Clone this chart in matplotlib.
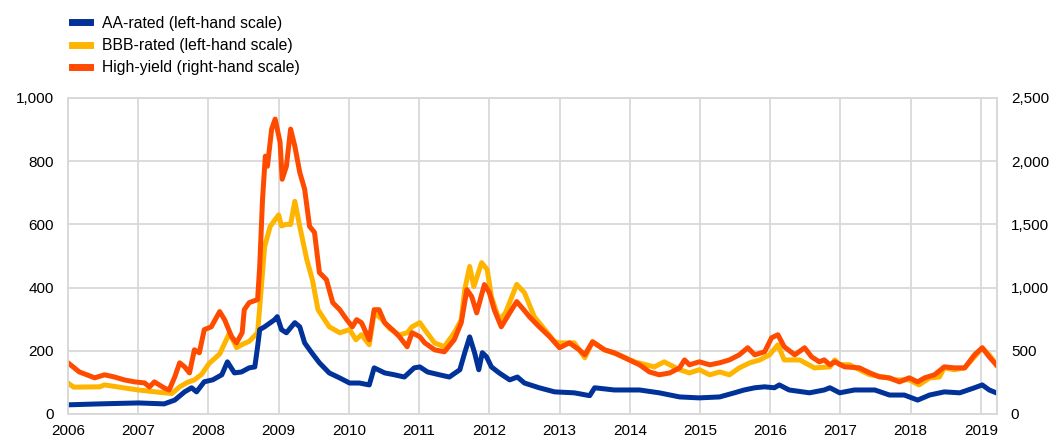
import matplotlib.pyplot as plt
from matplotlib.ticker import FuncFormatter

plt.rcParams['font.family'] = ['Liberation Sans', 'DejaVu Sans']

# AA-rated (left-hand scale)
aa_dates = [2006.00, 2006.45, 2007.00, 2007.37, 2007.52, 2007.66, 2007.76, 2007.83, 2007.94,
            2008.06, 2008.19, 2008.27, 2008.37, 2008.47, 2008.58, 2008.66, 2008.70, 2008.73,
            2008.80, 2008.94, 2008.98, 2009.04, 2009.11, 2009.23, 2009.30, 2009.37, 2009.47,
            2009.58, 2009.72, 2009.87, 2010.01, 2010.15, 2010.29, 2010.36, 2010.51, 2010.65,
            2010.79, 2010.93, 2011.01, 2011.12, 2011.29, 2011.43, 2011.58, 2011.65, 2011.72,
            2011.79, 2011.85, 2011.90, 2011.96, 2012.03, 2012.14, 2012.29, 2012.40, 2012.50,
            2012.71, 2012.93, 2013.21, 2013.43, 2013.50, 2013.78, 2014.14, 2014.42, 2014.71,
            2014.99, 2015.28, 2015.49, 2015.63, 2015.78, 2015.92, 2016.06, 2016.13, 2016.27,
            2016.56, 2016.77, 2016.85, 2016.99, 2017.20, 2017.49, 2017.70, 2017.91, 2018.10,
            2018.27, 2018.48, 2018.70, 2018.91, 2019.02, 2019.12, 2019.22]
aa_values = [29, 32, 35, 32, 44, 70, 83, 70, 102,
             108, 124, 165, 130, 133, 146, 149, 213, 267,
             276, 298, 308, 267, 257, 289, 276, 225, 194,
             162, 130, 114, 98, 98, 92, 146, 130, 124,
             117, 146, 149, 133, 124, 117, 140, 194, 244,
             194, 140, 194, 181, 149, 130, 108, 117, 98,
             83, 70, 67, 58, 83, 76, 76, 67, 54,
             51, 54, 67, 76, 83, 86, 83, 92, 76,
             67, 76, 83, 67, 76, 76, 60, 60, 44,
             60, 70, 67, 83, 92, 76, 67]

# BBB-rated (left-hand scale)
bbb_dates = [2006.00, 2006.08, 2006.45, 2006.52, 2007.00, 2007.37, 2007.48, 2007.59, 2007.70,
             2007.80, 2007.90, 2008.01, 2008.16, 2008.30, 2008.40, 2008.48, 2008.58, 2008.70,
             2008.80, 2008.88, 2009.00, 2009.04, 2009.10, 2009.17, 2009.23, 2009.30, 2009.40,
             2009.48, 2009.56, 2009.72, 2009.87, 2010.01, 2010.10, 2010.18, 2010.29, 2010.36,
             2010.47, 2010.58, 2010.72, 2010.83, 2010.90, 2011.01, 2011.08, 2011.22, 2011.36,
             2011.50, 2011.60, 2011.65, 2011.72, 2011.78, 2011.89, 2011.97, 2012.03, 2012.14,
             2012.23, 2012.39, 2012.50, 2012.64, 2012.79, 2012.93, 2013.00, 2013.21, 2013.36,
             2013.47, 2013.64, 2013.85, 2014.07, 2014.35, 2014.49, 2014.71, 2014.85, 2014.99,
             2015.14, 2015.28, 2015.42, 2015.56, 2015.71, 2015.85, 2015.99, 2016.11, 2016.20,
             2016.42, 2016.63, 2016.85, 2016.92, 2016.99, 2017.13, 2017.27, 2017.42, 2017.63,
             2017.77, 2017.98, 2018.12, 2018.27, 2018.41, 2018.48, 2018.62, 2018.77, 2018.91,
             2019.02, 2019.12, 2019.22]
bbb_values = [98, 85, 86, 92, 76, 67, 65, 86, 100,
              108, 125, 160, 190, 257, 210, 220, 230, 257,
              530, 594, 630, 595, 600, 600, 673, 594, 489,
              425, 330, 276, 257, 267, 235, 251, 219, 320,
              300, 270, 250, 257, 276, 289, 267, 225, 213,
              257, 298, 394, 467, 403, 479, 457, 371, 298,
              320, 410, 384, 308, 267, 229, 225, 225, 178,
              229, 203, 187, 165, 149, 165, 140, 130, 140,
              124, 133, 124, 146, 162, 171, 187, 219, 171,
              171, 146, 149, 171, 156, 156, 140, 124, 117,
              108, 108, 92, 114, 117, 146, 140, 146, 181,
              209, 187, 156]

# High-yield (right-hand scale)
hy_dates = [2006.00, 2006.16, 2006.38, 2006.52, 2006.66, 2006.80, 2006.95, 2007.09, 2007.16,
            2007.23, 2007.37, 2007.44, 2007.52, 2007.59, 2007.66, 2007.73, 2007.80, 2007.87,
            2007.94, 2008.04, 2008.16, 2008.23, 2008.33, 2008.40, 2008.48, 2008.51, 2008.58,
            2008.70, 2008.73, 2008.77, 2008.81, 2008.84, 2008.90, 2008.95, 2009.02, 2009.05,
            2009.11, 2009.17, 2009.23, 2009.30, 2009.37, 2009.44, 2009.51, 2009.58, 2009.68,
            2009.77, 2009.87, 2009.97, 2010.05, 2010.11, 2010.18, 2010.29, 2010.36, 2010.43,
            2010.51, 2010.62, 2010.72, 2010.83, 2010.90, 2011.01, 2011.08, 2011.22, 2011.36,
            2011.50, 2011.60, 2011.68, 2011.75, 2011.82, 2011.93, 2012.00, 2012.07, 2012.17,
            2012.29, 2012.39, 2012.49, 2012.57, 2012.71, 2012.86, 2013.00, 2013.14, 2013.28,
            2013.36, 2013.47, 2013.64, 2013.78, 2013.93, 2014.14, 2014.28, 2014.42, 2014.57,
            2014.71, 2014.78, 2014.85, 2014.99, 2015.14, 2015.28, 2015.42, 2015.56, 2015.68,
            2015.78, 2015.92, 2016.02, 2016.11, 2016.20, 2016.35, 2016.49, 2016.59, 2016.70,
            2016.77, 2016.85, 2016.92, 2017.06, 2017.27, 2017.42, 2017.56, 2017.70, 2017.84,
            2017.98, 2018.10, 2018.20, 2018.34, 2018.48, 2018.62, 2018.77, 2018.91, 2019.02,
            2019.12, 2019.22]
hy_values = [405, 333, 286, 310, 293, 270, 254, 246, 214,
             254, 206, 190, 293, 405, 373, 325, 508, 484,
             667, 690, 810, 746, 611, 563, 643, 825, 881,
             905, 1167, 1698, 2040, 1960, 2254, 2333, 2150, 1857,
             1960, 2254, 2119, 1912, 1778, 1484, 1437, 1119, 1063,
             881, 825, 746, 690, 746, 722, 587, 825, 825,
             722, 667, 611, 532, 643, 611, 563, 508, 492,
             587, 722, 984, 928, 800, 1024, 960, 825, 690,
             800, 889, 825, 770, 690, 611, 524, 563, 508,
             468, 571, 508, 484, 444, 389, 333, 310, 325,
             365, 428, 389, 413, 389, 405, 428, 468, 524,
             468, 492, 603, 627, 532, 468, 524, 452, 413,
             428, 389, 413, 373, 365, 325, 293, 286, 254,
             286, 254, 286, 310, 373, 365, 365, 468, 524,
             452, 389]

years = list(range(2006, 2020))

blue = '#003299'
yellow = '#FFB400'
orange = '#FF4B00'
grid_col = '#d9d9d9'

fig = plt.figure(figsize=(10.53, 4.4), dpi=100)
ax = fig.add_axes([0.0646, 0.0591, 0.8822, 0.7182])
ax2 = ax.twinx()

l1, = ax.plot(aa_dates, aa_values, color=blue, lw=3.6, zorder=4, label='AA-rated (left-hand scale)')
l2, = ax.plot(bbb_dates, bbb_values, color=yellow, lw=3.6, zorder=3, label='BBB-rated (left-hand scale)')
l3, = ax2.plot(hy_dates, hy_values, color=orange, lw=3.6, label='High-yield (right-hand scale)')

ax.set_xlim(2006, 2019.23)
ax.set_ylim(0, 1000)
ax2.set_ylim(0, 2500)
ax.set_xticks(years)
ax.set_xticklabels([str(y) for y in years])
ax.set_yticks(range(0, 1001, 200))
ax2.set_yticks(range(0, 2501, 500))
fmt = FuncFormatter(lambda v, p: f'{int(v):,}')
ax.yaxis.set_major_formatter(fmt)
ax2.yaxis.set_major_formatter(fmt)

ax.grid(True, color=grid_col, lw=1.3)
ax.set_axisbelow(True)
for a in (ax, ax2):
    for s in a.spines.values():
        s.set_color(grid_col)
        s.set_linewidth(1.3)
    a.tick_params(length=0, labelsize=11, colors='#000000')
ax.tick_params(axis='y', pad=10)
ax2.tick_params(axis='y', pad=10)
ax.tick_params(axis='x', pad=7)

leg = fig.legend(handles=[l1, l2, l3], loc='upper left', bbox_to_anchor=(0.062, 0.978),
                 frameon=False, fontsize=11.3, handlelength=1.2, handletextpad=0.75,
                 labelspacing=0.45, borderaxespad=0)
for h in leg.legend_handles:
    h.set_linewidth(5)

fig.savefig('out.png', dpi=100)
